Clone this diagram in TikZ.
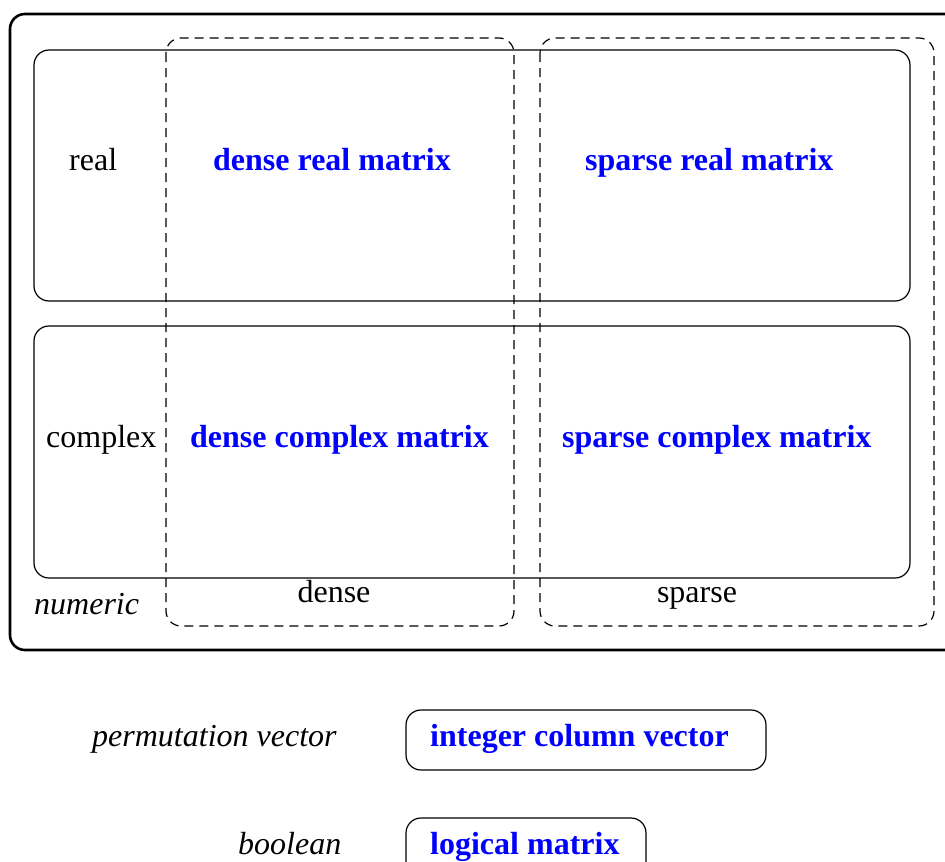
\documentclass[tikz,border=0pt]{standalone}
\usepackage{fontspec}
\setmainfont{Liberation Serif}
\usetikzlibrary{positioning}

\begin{document}
\begin{tikzpicture}[x=1pt,y=-1pt,
    font=\fontsize{32}{38}\selectfont,
    lbl/.style={inner sep=0pt,anchor=base west},
    kind/.style={lbl,text=blue,font=\fontsize{32}{38}\selectfont\bfseries},
    region/.style={draw,line width=1.2pt,rounded corners=15pt},
    group/.style={draw,line width=1.2pt,dash pattern=on 9pt off 6pt,rounded corners=15pt}]
    \clip (0,0) rectangle (945,862);

    % numeric classes
    \draw[line width=2.6pt,rounded corners=15pt] (10,14) rectangle (975,650);
    \draw[region] (34,50) rectangle (910,301);
    \draw[region] (34,326) rectangle (910,578);
    \draw[group] (166,38) rectangle (514,626);
    \draw[group] (540,38) rectangle (934,626);

    \node[lbl] (real) at (69,170) {real};
    \node[kind] (drm) at (213,170) {dense real matrix};
    \node[kind] (srm) at (585,170) {sparse real matrix};
    \node[lbl] (cplx) at (46,447) {complex};
    \node[kind] (dcm) at (190,447) {dense complex matrix};
    \node[kind] (scm) at (562,447) {sparse complex matrix};
    \node[lbl,anchor=base] (dense) at (334,602) {dense};
    \node[lbl,anchor=base] (sparse) at (697,602) {sparse};
    \node[lbl,font=\fontsize{32}{38}\selectfont\itshape] (num) at (34,614) {numeric};

    % other classes
    \draw[region] (406,710) rectangle (766,770);
    \draw[region] (406,818) rectangle (646,880);
    \node[lbl,font=\fontsize{32}{38}\selectfont\itshape] (perm) at (92,746) {permutation vector};
    \node[kind] (icv) at (430,746) {integer column vector};
    \node[lbl,font=\fontsize{32}{38}\selectfont\itshape] (bool) at (238,854) {boolean};
    \node[kind] (lm) at (430,854) {logical matrix};
\end{tikzpicture}
\end{document}
